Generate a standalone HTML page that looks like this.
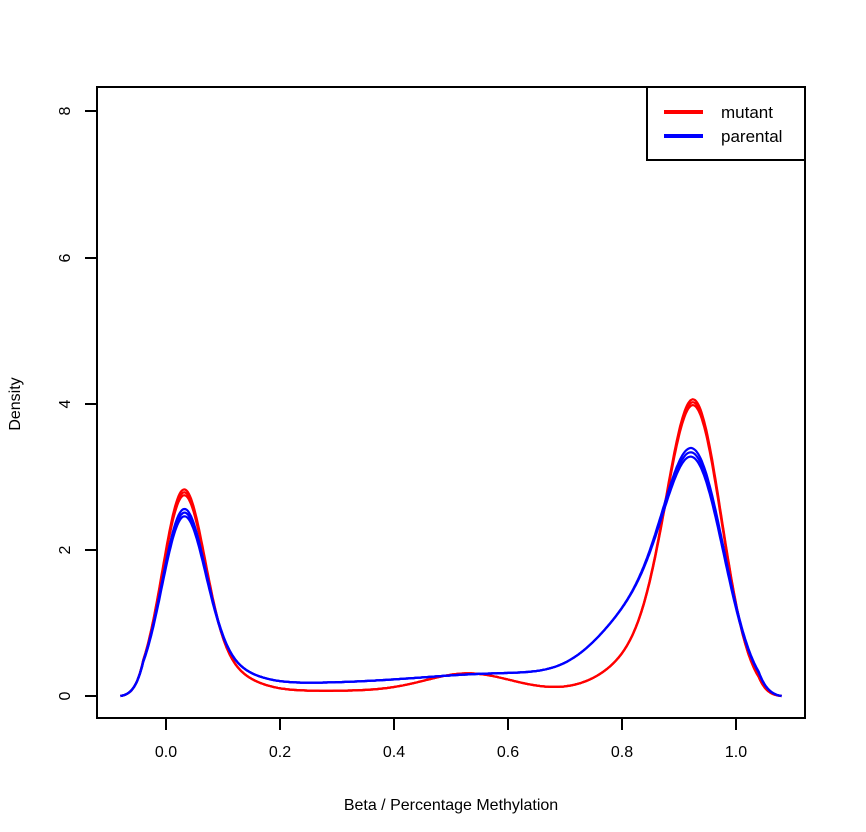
<!DOCTYPE html><html><head><style>body{margin:0;background:#fff}svg{display:block}text{font-family:"Liberation Sans",sans-serif;fill:#000}</style></head><body>
<svg id="s" width="866" height="832" viewBox="0 0 866 832">
<rect x="97" y="87" width="708" height="631" fill="none" stroke="#000" stroke-width="2"/>
<g stroke="#000" stroke-width="2">
<line x1="166" y1="718" x2="166" y2="730"/><line x1="280" y1="718" x2="280" y2="730"/><line x1="394" y1="718" x2="394" y2="730"/><line x1="508" y1="718" x2="508" y2="730"/><line x1="622" y1="718" x2="622" y2="730"/><line x1="736" y1="718" x2="736" y2="730"/>
<line x1="85" y1="696" x2="97" y2="696"/><line x1="85" y1="550" x2="97" y2="550"/><line x1="85" y1="404" x2="97" y2="404"/><line x1="85" y1="258" x2="97" y2="258"/><line x1="85" y1="111" x2="97" y2="111"/>
</g>
<g font-size="16" text-anchor="middle">
<text x="166" y="757">0.0</text><text x="280" y="757">0.2</text><text x="394" y="757">0.4</text><text x="508" y="757">0.6</text><text x="622" y="757">0.8</text><text x="736" y="757">1.0</text>
<text transform="translate(70,696) rotate(-90)">0</text><text transform="translate(70,550) rotate(-90)">2</text><text transform="translate(70,404) rotate(-90)">4</text><text transform="translate(70,258) rotate(-90)">6</text><text transform="translate(70,111) rotate(-90)">8</text>
<text x="451" y="810">Beta / Percentage Methylation</text>
<text transform="translate(20,404) rotate(-90)">Density</text>
</g>
<rect x="647" y="87" width="158" height="73" fill="#fff" stroke="#000" stroke-width="2"/>
<line x1="664" y1="112" x2="703" y2="112" stroke="#f00" stroke-width="4"/>
<line x1="664" y1="136" x2="703" y2="136" stroke="#00f" stroke-width="4"/>
<text x="721" y="118" font-size="17">mutant</text><text x="721" y="142" font-size="17">parental</text>
<g id="c" fill="none" stroke-width="2.2"></g>
</svg>
<script>
function N(x,m,s){return Math.exp(-(x-m)*(x-m)/(2*s*s));}
function sg(z){return 1/(1+Math.exp(-z));}
function red(x,k){return (2.42+k*0.04)*N(x,0.03,0.037)+0.4*N(x,0.07,0.06)+0.07*sg((x-0.1)/0.03)*sg((0.9-x)/0.03)+0.24*N(x,0.53,0.075)+(3.58+k*0.04)*N(x,0.928,0.048)+0.6*N(x,0.86,0.07);}
function blue(x,k){var b=(0.17+0.14*N(x,0.6,0.15))*sg((x-0.08)/0.03)*sg((0.9-x)/0.03);return (2.15+k*0.05)*N(x,0.03,0.038)+0.35*N(x,0.07,0.06)+b+(2.7+k*0.06)*N(x,0.93,0.052)+1.0*N(x,0.84,0.075);}
var g=document.getElementById('c'),h='';
function path(f,k,col){var d='';for(var x=-0.08;x<=1.0801;x+=0.002){var v=f(x,k)*Math.min(1,Math.max(0,(x+0.08)/0.04))*Math.min(1,Math.max(0,(1.08-x)/0.04));d+=(d?'L':'M')+(166+570*x).toFixed(1)+','+(696-73*v).toFixed(1);}h+='<path d="'+d+'" stroke="'+col+'"/>';}
for(var k=0;k<3;k++)path(red,k,'#f00');
for(var k=0;k<3;k++)path(blue,k,'#00f');
g.innerHTML=h;
</script>
</body></html>
